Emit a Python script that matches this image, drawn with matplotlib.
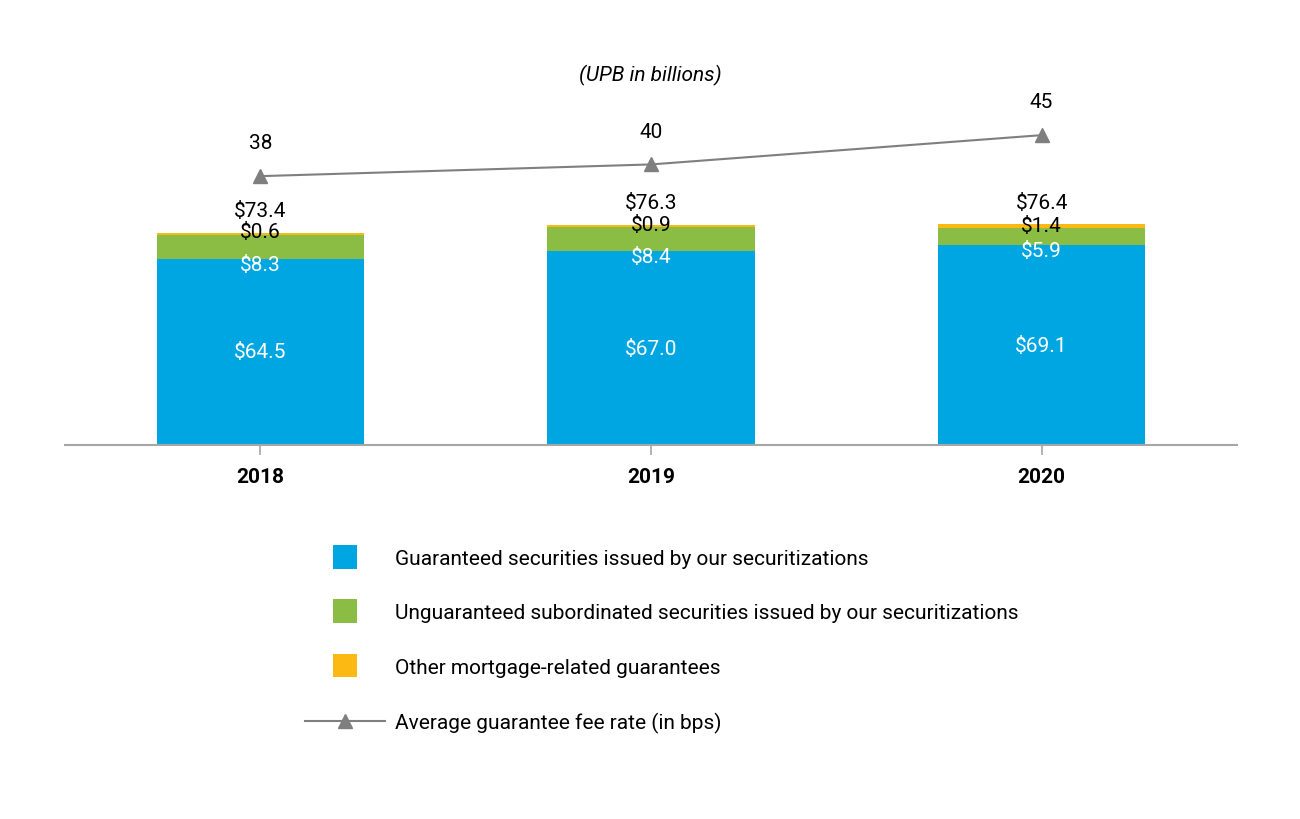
import matplotlib
matplotlib.use("Agg")
import matplotlib.pyplot as plt
from matplotlib.patches import Rectangle
from matplotlib.legend_handler import HandlerPatch

plt.rcParams['font.family'] = ['Liberation Sans Narrow', 'Roboto', 'DejaVu Sans']

years = ["2018", "2019", "2020"]
guaranteed = [64.5, 67.0, 69.1]
unguaranteed = [8.3, 8.4, 5.9]
other = [0.6, 0.9, 1.4]
totals = [73.4, 76.3, 76.4]
fee_rate = [38, 40, 45]

c_blue = "#00A6E1"
c_green = "#8BBD45"
c_orange = "#FDB913"
c_line = "#7F7F7F"

fig = plt.figure(figsize=(13, 8.2), dpi=100)
ax = fig.add_axes([65/1300, 1 - 446/820, 1172/1300, 386/820])
ax2 = ax.twinx()

x = list(range(len(years)))
w = 0.53
bottom2 = [g + u for g, u in zip(guaranteed, unguaranteed)]
b1 = ax.bar(x, guaranteed, w, color=c_blue, label="Guaranteed securities issued by our securitizations")
b2 = ax.bar(x, unguaranteed, w, bottom=guaranteed, color=c_green,
            label="Unguaranteed subordinated securities issued by our securitizations")
b3 = ax.bar(x, other, w, bottom=bottom2, color=c_orange, label="Other mortgage-related guarantees")

fs = 15
for i in x:
    ax.text(i, guaranteed[i] / 2, f"${guaranteed[i]:.1f}", ha="center", va="center",
            color="white", fontsize=fs)
    ax.annotate(f"${unguaranteed[i]:.1f}", (i, guaranteed[i]), xytext=(0, -4),
                textcoords="offset points", ha="center", va="center", color="white", fontsize=fs)
    ax.annotate(f"${other[i]:.1f}", (i, bottom2[i]), xytext=(0, 2),
                textcoords="offset points", ha="center", va="center", color="black", fontsize=fs)
    ax.annotate(f"${totals[i]:.1f}", (i, bottom2[i] + other[i]), xytext=(0, 16),
                textcoords="offset points", ha="center", va="center", color="black", fontsize=fs)

ln, = ax2.plot(x, fee_rate, color=c_line, lw=1.5, marker="^", markersize=10,
               label="Average guarantee fee rate (in bps)")
for i in x:
    ax2.annotate(str(fee_rate[i]), (i, fee_rate[i]), xytext=(0, 24), textcoords="offset points",
                 ha="center", va="center", fontsize=fs)

ax.set_xlim(-0.5, 2.5)
ax.set_ylim(0, 133.6)
ax2.set_ylim(-7.9, 58.0)

for a in (ax, ax2):
    for s in ("top", "right", "left"):
        a.spines[s].set_visible(False)
    a.set_yticks([])
ax2.spines["bottom"].set_visible(False)
ax.spines["bottom"].set_color("#A6A6A6")
ax.spines["bottom"].set_linewidth(1.5)
ax.set_xticks(x)
ax.set_xticklabels(years, fontsize=fs, fontweight="bold")
ax.tick_params(axis="x", length=7, width=1.2, color="#A6A6A6", pad=9)

fig.text(650/1300, 1 - 75/820, "(UPB in billions)", ha="center", va="center",
         fontsize=fs, style="italic")


def square(legend, orig_handle, xdescent, ydescent, width, height, fontsize):
    side = 17
    cx = -xdescent + width / 2
    cy = -ydescent + height / 2
    return Rectangle((cx - side / 2, cy - side / 2), side, side)


handles = [b1[0], b2[0], b3[0], ln]
labels = [b1.get_label(), b2.get_label(), b3.get_label(), ln.get_label()]
fig.legend(handles, labels, loc="upper left",
           bbox_to_anchor=(305/1300, 1 - 550/820), frameon=False, fontsize=fs,
           handlelength=3.85, handletextpad=0.45, labelspacing=1.7, borderpad=0,
           borderaxespad=0, handler_map={Rectangle: HandlerPatch(patch_func=square)})

fig.savefig("out.png", dpi=100)
